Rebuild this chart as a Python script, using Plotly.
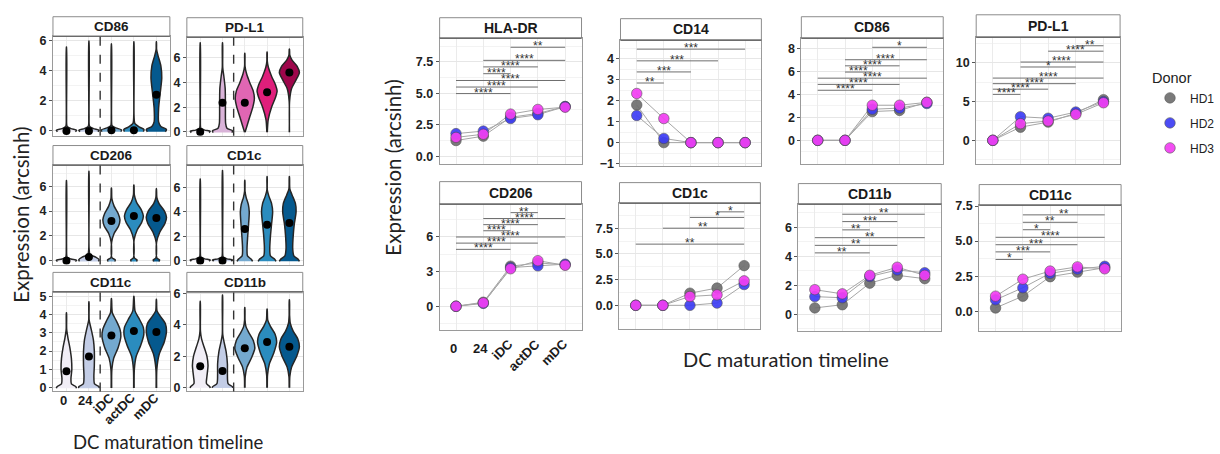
import plotly.graph_objects as go

W, H = 1220, 454
CATS = ["0", "24", "iDC", "actDC", "mDC"]
XPOS = [1, 2, 3, 4, 5]
DONORS = ["HD1", "HD2", "HD3"]
DONOR_COLORS = ["#6f6f6f", "#3d3df5", "#f23ef2"]
BLUE_FILLS = ["#f1eef6", "#c3cde6", "#74a9cf", "#2b8cbe", "#05598e"]
PINK_FILLS = ["#f1eef6", "#d9b3d8", "#e066b3", "#df1f7b", "#9e064b"]

# ---------------- left: violin profiles (y, half-width) per time point --------
CD86_VIOLINS = [
    [(-0.05, 0.40), (0.05, 0.45), (0.15, 0.2), (0.3, 0.03), (1.0, 0.006), (5.55, 0.004)],
    [(-0.05, 0.40), (0.05, 0.45), (0.15, 0.2), (0.3, 0.03), (1.0, 0.006), (5.95, 0.004)],
    [(-0.05, 0.42), (0.07, 0.45), (0.2, 0.2), (0.35, 0.03), (1.0, 0.006), (5.75, 0.004)],
    [(-0.05, 0.42), (0.1, 0.45), (0.25, 0.25), (0.5, 0.04), (1.0, 0.006), (5.9, 0.004)],
    [(-0.05, 0.40), (0.1, 0.45), (0.3, 0.2), (0.6, 0.1), (1.5, 0.1), (2.5, 0.17), (3.5, 0.24), (4.3, 0.2), (5.0, 0.07), (5.4, 0.01), (5.9, 0.004)],
]
CD86_MEDIANS = [0.0, 0.0, 0.05, 0.05, 2.4]

PDL1_VIOLINS = [
    [(-0.05, 0.40), (0.05, 0.45), (0.15, 0.2), (0.3, 0.03), (1.0, 0.006), (7.2, 0.004)],
    [(-0.05, 0.42), (0.1, 0.45), (0.3, 0.2), (0.7, 0.14), (2.0, 0.13), (3.5, 0.12), (4.5, 0.06), (5.2, 0.01), (7.2, 0.004)],
    [(-0.02, 0.01), (0.5, 0.1), (1.2, 0.22), (2.0, 0.36), (2.7, 0.43), (3.3, 0.38), (4.0, 0.22), (4.7, 0.08), (5.3, 0.01), (6.35, 0.004)],
    [(-0.02, 0.01), (1.0, 0.05), (2.0, 0.2), (2.8, 0.38), (3.3, 0.45), (3.8, 0.38), (4.5, 0.2), (5.2, 0.06), (5.7, 0.01), (6.45, 0.004)],
    [(-0.02, 0.004), (2.5, 0.01), (3.5, 0.1), (4.2, 0.3), (4.8, 0.45), (5.3, 0.35), (5.8, 0.12), (6.2, 0.02), (6.7, 0.004)],
]
PDL1_MEDIANS = [0.0, 2.35, 2.35, 3.2, 4.8]

CD206_VIOLINS = [
    [(-0.05, 0.40), (0.05, 0.45), (0.15, 0.2), (0.3, 0.03), (1.0, 0.006), (6.45, 0.004)],
    [(-0.05, 0.42), (0.1, 0.45), (0.3, 0.3), (0.5, 0.05), (1.0, 0.006), (7.2, 0.004)],
    [(-0.05, 0.15), (0.08, 0.17), (0.25, 0.02), (1.5, 0.01), (2.2, 0.12), (2.8, 0.32), (3.3, 0.38), (3.8, 0.3), (4.4, 0.12), (5.0, 0.02), (5.85, 0.004)],
    [(-0.05, 0.12), (0.08, 0.14), (0.25, 0.02), (1.7, 0.01), (2.5, 0.15), (3.1, 0.35), (3.6, 0.42), (4.1, 0.33), (4.7, 0.12), (5.3, 0.02), (6.1, 0.004)],
    [(-0.05, 0.12), (0.08, 0.14), (0.25, 0.02), (1.5, 0.01), (2.3, 0.15), (3.0, 0.38), (3.5, 0.45), (4.0, 0.36), (4.6, 0.12), (5.1, 0.02), (5.8, 0.004)],
]
CD206_MEDIANS = [0.0, 0.3, 3.2, 3.6, 3.45]

CD1C_VIOLINS = [
    [(-0.05, 0.40), (0.05, 0.45), (0.15, 0.2), (0.3, 0.03), (1.0, 0.006), (6.7, 0.004)],
    [(-0.05, 0.40), (0.05, 0.45), (0.15, 0.2), (0.3, 0.03), (1.0, 0.006), (7.4, 0.004)],
    [(-0.05, 0.35), (0.1, 0.3), (0.4, 0.12), (1.0, 0.1), (2.0, 0.13), (3.0, 0.17), (4.0, 0.2), (4.6, 0.16), (5.2, 0.06), (5.7, 0.01), (6.6, 0.004)],
    [(-0.05, 0.40), (0.1, 0.35), (0.4, 0.15), (1.0, 0.12), (2.0, 0.15), (3.0, 0.2), (4.0, 0.25), (4.7, 0.2), (5.3, 0.08), (5.8, 0.01), (6.9, 0.004)],
    [(-0.05, 0.45), (0.1, 0.4), (0.4, 0.2), (1.0, 0.15), (2.0, 0.17), (3.0, 0.22), (4.0, 0.3), (4.7, 0.27), (5.4, 0.12), (5.9, 0.02), (6.9, 0.004)],
]
CD1C_MEDIANS = [0.0, 0.0, 2.6, 2.95, 3.1]

CD11C_VIOLINS = [
    [(-0.03, 0.45), (0.05, 0.42), (0.2, 0.22), (0.5, 0.2), (1.0, 0.24), (1.6, 0.22), (2.2, 0.15), (2.7, 0.07), (3.2, 0.01), (4.1, 0.004)],
    [(-0.03, 0.45), (0.05, 0.45), (0.2, 0.25), (0.6, 0.22), (1.2, 0.24), (2.0, 0.24), (2.6, 0.2), (3.2, 0.1), (3.7, 0.01), (4.7, 0.004)],
    [(-0.02, 0.01), (1.0, 0.02), (1.6, 0.1), (2.2, 0.3), (2.8, 0.42), (3.2, 0.38), (3.7, 0.2), (4.1, 0.04), (4.87, 0.004)],
    [(-0.02, 0.01), (1.0, 0.02), (1.7, 0.1), (2.3, 0.3), (2.9, 0.44), (3.3, 0.42), (3.8, 0.22), (4.2, 0.05), (5.0, 0.004)],
    [(-0.02, 0.01), (1.0, 0.02), (1.8, 0.12), (2.5, 0.35), (3.1, 0.45), (3.5, 0.4), (3.9, 0.18), (4.2, 0.03), (4.83, 0.004)],
]
CD11C_MEDIANS = [0.9, 1.7, 2.85, 3.1, 3.05]

CD11B_VIOLINS = [
    [(-0.03, 0.45), (0.05, 0.43), (0.25, 0.28), (0.7, 0.3), (1.4, 0.35), (2.0, 0.3), (2.6, 0.17), (3.1, 0.06), (3.6, 0.01), (5.5, 0.004)],
    [(-0.03, 0.45), (0.05, 0.45), (0.25, 0.25), (0.8, 0.22), (1.5, 0.22), (2.3, 0.16), (2.9, 0.07), (3.4, 0.01), (5.9, 0.004)],
    [(-0.02, 0.01), (0.7, 0.02), (1.3, 0.1), (1.9, 0.3), (2.5, 0.45), (3.0, 0.38), (3.5, 0.18), (3.9, 0.05), (4.3, 0.01), (5.1, 0.004)],
    [(-0.02, 0.01), (0.8, 0.02), (1.5, 0.1), (2.2, 0.3), (2.9, 0.43), (3.4, 0.36), (3.9, 0.15), (4.3, 0.03), (5.0, 0.004)],
    [(-0.02, 0.01), (0.7, 0.02), (1.3, 0.1), (2.0, 0.33), (2.6, 0.45), (3.1, 0.38), (3.6, 0.17), (4.1, 0.04), (4.6, 0.01), (5.6, 0.004)],
]
CD11B_MEDIANS = [1.35, 1.05, 2.5, 2.9, 2.6]

# ---------------- right: donor means (HD1, HD2, HD3) ------------------------
HLADR_VALUES = [[1.25, 1.6, 3.1, 3.4, 3.95], [1.8, 2.0, 3.0, 3.3, 3.95], [1.5, 1.75, 3.35, 3.72, 3.9]]
CD14_VALUES = [[1.8, 0.0, 0.0, 0.0, 0.0], [1.3, 0.2, 0.0, 0.0, 0.0], [2.35, 1.15, 0.0, 0.0, 0.0]]
CD86R_VALUES = [[0.0, 0.0, 2.5, 2.6, 3.3], [0.0, 0.0, 2.7, 2.8, 3.2], [0.0, 0.0, 3.05, 3.05, 3.3]]
PDL1R_VALUES = [[0.0, 1.7, 2.35, 3.5, 5.25], [0.0, 3.05, 2.85, 3.65, 5.0], [0.0, 2.15, 2.5, 3.35, 4.85]]
CD206R_VALUES = [[0.0, 0.35, 3.47, 3.75, 3.6], [0.0, 0.25, 3.35, 3.5, 3.65], [0.0, 0.3, 3.25, 3.95, 3.55]]
CD1CR_VALUES = [[0.0, 0.0, 1.18, 1.68, 3.86], [0.0, 0.0, 0.0, 0.22, 2.02], [0.0, 0.0, 0.86, 1.02, 2.38]]
CD11BR_VALUES = [[0.43, 0.65, 2.14, 2.68, 2.45], [1.21, 1.13, 2.6, 3.05, 2.86], [1.69, 1.4, 2.68, 3.24, 2.68]]
CD11CR_VALUES = [[0.23, 1.07, 2.46, 2.79, 3.1], [0.81, 1.67, 2.7, 3.0, 3.2], [1.07, 2.28, 2.86, 3.16, 3.02]]

# significance brackets: (from category, to category, height, label)
HLADR_SIG = [(3, 5, 8.66, "**"), (2, 5, 7.62, "****"), (2, 4, 7.1, "****"), (2, 3, 6.56, "****"),
             (1, 5, 6.02, "****"), (1, 4, 5.5, "****"), (1, 3, 4.98, "****")]
CD14_SIG = [(1, 5, 4.47, "***"), (1, 4, 3.91, "***"), (1, 3, 3.38, "***"), (1, 2, 2.85, "**")]
CD86R_SIG = [(3, 5, 8.08, "*"), (2, 5, 7.0, "****"), (2, 4, 6.47, "****"), (2, 3, 5.93, "****"),
             (1, 5, 5.4, "****"), (1, 4, 4.86, "****"), (1, 3, 4.35, "****")]
PDL1R_SIG = [(4, 5, 12.2, "**"), (3, 5, 11.5, "****"), (2, 5, 10.1, "****"), (2, 4, 9.46, "*"),
             (1, 5, 8.03, "****"), (1, 4, 7.31, "****"), (1, 3, 6.6, "****"), (1, 2, 5.93, "****")]
CD206R_SIG = [(3, 4, 8.11, "**"), (2, 5, 7.6, "****"), (2, 4, 7.07, "****"), (2, 3, 6.54, "****"),
              (1, 5, 6.0, "****"), (1, 4, 5.47, "****"), (1, 3, 4.93, "****")]
CD1CR_SIG = [(4, 5, 9.09, "*"), (3, 5, 8.55, "*"), (2, 5, 7.5, "**"), (1, 5, 5.95, "**")]
CD11BR_SIG = [(2, 5, 6.9, "**"), (2, 4, 6.39, "***"), (2, 3, 5.82, "**"),
              (1, 5, 5.28, "**"), (1, 4, 4.75, "**"), (1, 3, 4.23, "**")]
CD11CR_SIG = [(2, 5, 6.87, "**"), (2, 4, 6.34, "**"), (2, 3, 5.81, "*"), (1, 5, 5.27, "****"),
              (1, 4, 4.74, "***"), (1, 3, 4.23, "***"), (1, 2, 3.69, "*")]

# ---------------- layout geometry (pixels) -----------------------------------
LEFT_PANELS = [
    ("CD86", (53, 170, 11, 31, 133), [-0.32, 6.26], [0, 2, 4, 6], CD86_VIOLINS, CD86_MEDIANS, BLUE_FILLS),
    ("PD-L1", (187, 303, 12, 32, 133), [-0.31, 7.65], [0, 2, 4, 6], PDL1_VIOLINS, PDL1_MEDIANS, PINK_FILLS),
    ("CD206", (53, 170, 143, 163, 265), [-0.3, 7.7], [0, 2, 4, 6], CD206_VIOLINS, CD206_MEDIANS, BLUE_FILLS),
    ("CD1c", (187, 303, 143, 163, 265), [-0.32, 7.85], [0, 2, 4, 6], CD1C_VIOLINS, CD1C_MEDIANS, BLUE_FILLS),
    ("CD11c", (53, 170, 273, 293, 395), [-0.21, 5.24], [0, 1, 2, 3, 4, 5], CD11C_VIOLINS, CD11C_MEDIANS, BLUE_FILLS),
    ("CD11b", (187, 303, 273, 293, 395), [-0.25, 6.1], [0, 2, 4, 6], CD11B_VIOLINS, CD11B_MEDIANS, BLUE_FILLS),
]
RIGHT_PANELS = [
    ("HLA-DR", (440, 582, 12, 33, 162), [-0.62, 9.38], [0, 2.5, 5, 7.5], ".1f", HLADR_VALUES, HLADR_SIG),
    ("CD14", (621, 762, 13, 35, 164), [-1.12, 4.9], [-1, 0, 1, 2, 3, 4], "", CD14_VALUES, CD14_SIG),
    ("CD86", (802, 944, 11, 33, 162), [-2.06, 8.87], [0, 2, 4, 6, 8], "", CD86R_VALUES, CD86R_SIG),
    ("PD-L1", (977, 1121, 9, 32, 162), [-3.06, 13.3], [0, 5, 10], "", PDL1R_VALUES, PDL1R_SIG),
    ("CD206", (440, 582, 180, 203, 332), [-2.05, 8.85], [0, 3, 6], "", CD206R_VALUES, CD206R_SIG),
    ("CD1c", (620, 761, 181, 202, 331), [-2.3, 9.94], [0, 2.5, 5, 7.5], ".1f", CD1CR_VALUES, CD1CR_SIG),
    ("CD11b", (799, 942, 182, 203, 333), [-1.16, 7.6], [0, 2, 4, 6], "", CD11BR_VALUES, CD11BR_SIG),
    ("CD11c", (980, 1122, 183, 204, 333), [-1.41, 7.57], [0, 2.5, 5, 7.5], ".1f", CD11CR_VALUES, CD11CR_SIG),
]

TICKFONT = dict(family="Liberation Sans", size=12.5, color="#222222", weight="bold")


def fx(px):
    return px / W


def fy(py):
    return 1 - py / H


fig = go.Figure()
layout = dict(width=W, height=H, margin=dict(l=0, r=0, t=0, b=0),
              paper_bgcolor="white", plot_bgcolor="white", showlegend=True)
shapes = []
annotations = []


def axis_names(i):
    s = "" if i == 1 else str(i)
    return "xaxis" + s, "yaxis" + s, "x" + s, "y" + s


def setup_panel(i, title, geom, yrange, yticks, fmt, strip_size):
    x0, x1, st, pt, pb = geom
    xa, ya, xr, yr = axis_names(i)
    layout[xa] = dict(domain=[fx(x0), fx(x1)], range=[0.4, 5.6], anchor=yr,
                      tickvals=XPOS, showticklabels=False, ticks="",
                      showgrid=True, gridcolor="#ebebeb", gridwidth=1,
                      showline=True, mirror=True, linecolor="#9a9a9a", linewidth=1,
                      zeroline=False, fixedrange=True)
    step = yticks[1] - yticks[0]
    layout[ya] = dict(domain=[fy(pb), fy(pt)], range=yrange, anchor=xr,
                      tickvals=yticks, tickformat=fmt, tickfont=TICKFONT,
                      ticks="outside", ticklen=3, tickcolor="#555555",
                      showgrid=True, gridcolor="#e6e6e6", gridwidth=1,
                      minor=dict(tick0=yticks[0] + step / 2, dtick=step, showgrid=True,
                                 gridcolor="#f3f3f3", ticks=""),
                      showline=True, mirror=True, linecolor="#9a9a9a", linewidth=1,
                      zeroline=False, fixedrange=True)
    shapes.append(dict(type="rect", xref="paper", yref="paper",
                       x0=fx(x0), x1=fx(x1), y0=fy(pt), y1=fy(st),
                       fillcolor="white", line=dict(color="#8c8c8c", width=1)))
    shapes.append(dict(type="line", xref="paper", yref="paper",
                       x0=fx(x0), x1=fx(x1), y0=fy(pt), y1=fy(pt),
                       line=dict(color="#555555", width=1.2)))
    annotations.append(dict(text="<b>%s</b>" % title, xref="paper", yref="paper",
                            x=fx((x0 + x1) / 2), y=fy((st + pt) / 2), showarrow=False,
                            xanchor="center", yanchor="middle",
                            font=dict(family="Liberation Sans", size=strip_size, color="#1a1a1a")))
    return xr, yr


# ---------------- left violins -------------------------------------------
idx = 1
for title, geom, yrange, yticks, violins, medians, fills in LEFT_PANELS:
    xr, yr = setup_panel(idx, title, geom, yrange, yticks, "", 13.5)
    for k, prof in enumerate(violins):
        c = XPOS[k]
        xs = [c + w for (y, w) in prof] + [c - w for (y, w) in reversed(prof)]
        ys = [y for (y, w) in prof] + [y for (y, w) in reversed(prof)]
        fig.add_trace(go.Scatter(x=xs, y=ys, xaxis=xr, yaxis=yr, mode="lines",
                                 fill="toself", fillcolor=fills[k],
                                 line=dict(color="#262626", width=1.5, shape="spline", smoothing=0.7),
                                 hoverinfo="skip", showlegend=False))
    fig.add_trace(go.Scatter(x=XPOS, y=medians, xaxis=xr, yaxis=yr, mode="markers",
                             marker=dict(color="black", size=8), hoverinfo="skip", showlegend=False))
    shapes.append(dict(type="line", xref=xr, yref=yr + " domain", x0=2.5, x1=2.5, y0=0, y1=1,
                       line=dict(color="#333333", width=1.4, dash="dash")))
    idx += 1

# ---------------- right donor panels -----------------------------------------
for pi, (title, geom, yrange, yticks, fmt, values, sigs) in enumerate(RIGHT_PANELS):
    xr, yr = setup_panel(idx, title, geom, yrange, yticks, fmt, 14)
    for a, b, h, lab in sigs:
        shapes.append(dict(type="line", xref=xr, yref=yr, x0=a, x1=b, y0=h, y1=h,
                           line=dict(color="#6e6e6e", width=1)))
        annotations.append(dict(text=lab, xref=xr, yref=yr, x=(a + b) / 2, y=h,
                                showarrow=False, xanchor="center", yanchor="middle", yshift=1,
                                font=dict(family="Liberation Sans", size=12, color="#333333")))
    for d in range(3):
        fig.add_trace(go.Scatter(x=XPOS, y=values[d], xaxis=xr, yaxis=yr, mode="lines",
                                 line=dict(color="#a6a6a6", width=1), hoverinfo="skip", showlegend=False))
    for d in range(3):
        fig.add_trace(go.Scatter(x=XPOS, y=values[d], xaxis=xr, yaxis=yr, mode="markers",
                                 name=DONORS[d], legendgroup=DONORS[d], showlegend=(pi == 0),
                                 marker=dict(color=DONOR_COLORS[d], size=10.5, opacity=0.92,
                                             line=dict(color="#4a4a4a", width=0.6)),
                                 hoverinfo="skip"))
    idx += 1


# ---------------- category tick labels ---------------------------------------
def cat_labels(xr, y_flat, y_top, size):
    offs = {"iDC": 8, "actDC": 14, "mDC": 11}
    for k, lab in enumerate(CATS):
        if lab in offs:
            o = offs[lab]
            annotations.append(dict(text="<b>%s</b>" % lab, xref=xr, yref="paper", x=XPOS[k],
                                    y=fy(y_top + o), xshift=-o, textangle=-45, showarrow=False,
                                    xanchor="center", yanchor="middle",
                                    font=dict(family="Liberation Sans", size=size, color="#1a1a1a")))
        else:
            annotations.append(dict(text="<b>%s</b>" % lab, xref=xr, yref="paper", x=XPOS[k],
                                    y=fy(y_flat), xshift=-3, showarrow=False,
                                    xanchor="center", yanchor="middle",
                                    font=dict(family="Liberation Sans", size=size, color="#1a1a1a")))


cat_labels("x5", 404, 399, 13)
cat_labels("x11", 351, 344, 13)

# ---------------- axis titles ----------------------------------------------
annotations += [
    dict(text="Expression (arcsinh)", xref="paper", yref="paper", x=fx(21), y=fy(214),
         textangle=-90, showarrow=False, xanchor="center", yanchor="middle",
         font=dict(family="Lato", size=20.5, color="#222222")),
    dict(text="Expression (arcsinh)", xref="paper", yref="paper", x=fx(393), y=fy(166),
         textangle=-90, showarrow=False, xanchor="center", yanchor="middle",
         font=dict(family="Lato", size=20.5, color="#222222")),
    dict(text="DC maturation timeline", xref="paper", yref="paper", x=fx(169), y=fy(447),
         showarrow=False, xanchor="center", yanchor="middle",
         font=dict(family="Lato", size=18.5, color="#222222")),
    dict(text="DC maturation timeline", xref="paper", yref="paper", x=fx(787), y=fy(362),
         showarrow=False, xanchor="center", yanchor="middle",
         font=dict(family="Lato", size=20, color="#222222")),
]

layout["legend"] = dict(x=fx(1151), y=fy(60), xanchor="left", yanchor="top",
                        title=dict(text="Donor", font=dict(family="Liberation Sans", size=14.5, color="#222222")),
                        font=dict(family="Liberation Sans", size=12, color="#222222"),
                        tracegroupgap=6, bgcolor="rgba(0,0,0,0)", itemsizing="trace")
layout["shapes"] = shapes
layout["annotations"] = annotations
fig.update_layout(**layout)
fig.write_html("out.html", config={"displayModeBar": False, "staticPlot": True},
               post_script="document.body.style.margin='0';document.body.style.overflow='hidden';")
